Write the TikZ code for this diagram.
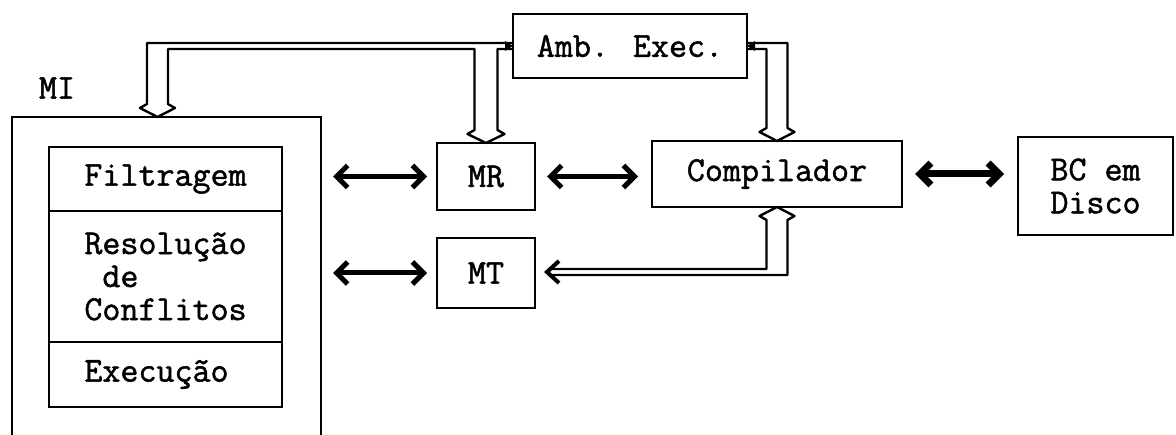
\documentclass[tikz,border=0pt]{standalone}
\usepackage{fontspec}
\newfontfamily\dotfont{Latin Modern Mono}[FakeBold=1.4]
\usetikzlibrary{calc,arrows.meta}
\begin{document}
\begin{tikzpicture}[x=1pt,y=-1pt,
  box/.style={draw,line width=2.5pt,inner sep=0pt,outer sep=0pt,align=center,font=\dotfont\fontsize{35}{33}\selectfont},
  lbl/.style={inner sep=0pt,font=\dotfont\fontsize{35}{33}\selectfont},
  pipe/.style={line width=2.4pt,line join=round},
  lr/.style={line width=5pt,{Straight Barb[length=11pt,width=22pt]}-{Straight Barb[length=11pt,width=22pt]}},
  chev/.style={line width=4pt,line join=miter}]
\useasboundingbox (0,0) rectangle (1176,435);
% nodes
\node[box,minimum width=234pt,minimum height=64pt] (amb) at (630,46) {Amb. Exec.};
\node[box,minimum width=309pt,minimum height=360pt] (mi) at (166.5,297) {};
\node[lbl] (milbl) at (57,88) {MI};
\node[box,minimum width=233pt,minimum height=64pt] (filt) at (165.5,179) {Filtragem};
\node[box,minimum width=233pt,minimum height=131pt,anchor=north,align=left] (reso) at (filt.south) {Resolução\\\ de\\Conflitos};
\node[box,minimum width=233pt,minimum height=65pt,anchor=north] (exec) at (reso.south) {Execução\hphantom{o}};
\node[box,minimum width=98pt,minimum height=67pt] (mr) at (486,176.5) {MR};
\node[box,minimum width=98pt,minimum height=70pt] (mt) at (486,273) {MT};
\node[box,minimum width=250pt,minimum height=66pt] (comp) at (777,174) {Compilador};
\node[box,minimum width=155pt,minimum height=98pt] (bc) at (1095.5,186) {BC em\\Disco};
% left-right arrows
\draw[lr,shorten <=12pt,shorten >=10pt] (mi.east |- mr.west) -- (mr.west);
\draw[lr,shorten <=12pt,shorten >=10pt] (mi.east |- mt.west) -- (mt.west);
\draw[lr,shorten <=12pt,shorten >=14pt] (mr.east) -- (comp.west |- mr.east);
\draw[lr,line width=7pt,shorten <=13pt,shorten >=14pt] (comp.east) -- (bc.west |- comp.east);
% top-left pipe (Amb -> MI, MR)
\coordinate (miT) at ($(mi.north)+(-9,0)$);
\coordinate (lu) at ($(amb.west)+(0,-3)$);
\coordinate (ll) at ($(amb.west)+(0,3)$);
\coordinate (p1) at ($(miT)+(-10.5,-13)$);
\coordinate (p2) at ($(miT)+(-17.5,-9)$);
\coordinate (p3) at ($(miT)+(17.5,-9)$);
\coordinate (p4) at ($(miT)+(10.5,-13)$);
\coordinate (q1) at ($(mr.north)+(-11.5,-13)$);
\coordinate (q2) at ($(mr.north)+(-18.5,-9)$);
\coordinate (q3) at ($(mr.north)+(18.5,-9)$);
\coordinate (q4) at ($(mr.north)+(11.5,-13)$);
\draw[pipe] (lu) -- (lu -| p1) -- (p1) -- (p2) -- (miT) -- (p3) -- (p4) -- (p4 |- ll)
  -- (q1 |- ll) -- (q1) -- (q2) -- (mr.north) -- (q3) -- (q4) -- (q4 |- ll) -- (ll);
\fill ($(amb.west)+(-8,-5)$) -- (amb.west) -- ($(amb.west)+(-8,5)$) -- cycle;
% top-right pipe (Amb -> Compilador)
\coordinate (ru) at ($(amb.east)+(0,-3)$);
\coordinate (rl) at ($(amb.east)+(0,3)$);
\coordinate (r1) at ($(comp.north)+(-10.5,-13)$);
\coordinate (r2) at ($(comp.north)+(-17.5,-9)$);
\coordinate (r3) at ($(comp.north)+(17.5,-9)$);
\coordinate (r4) at ($(comp.north)+(10.5,-13)$);
\draw[pipe] (ru) -- (ru -| r4) -- (r4) -- (r3) -- (comp.north) -- (r2) -- (r1) -- (r1 |- rl) -- (rl);
\fill ($(amb.east)+(8,-5)$) -- (amb.east) -- ($(amb.east)+(8,5)$) -- cycle;
% bottom pipe (MT <-> Compilador)
\coordinate (mtT) at ($(mt.east)+(12,-1)$);
\coordinate (bu) at ($(mtT)+(3,-3)$);
\coordinate (bl) at ($(mtT)+(3,3)$);
\coordinate (s1) at ($(comp.south)+(-10.5,13)$);
\coordinate (s2) at ($(comp.south)+(-17.5,9)$);
\coordinate (s3) at ($(comp.south)+(17.5,9)$);
\coordinate (s4) at ($(comp.south)+(10.5,13)$);
\draw[pipe] (bu) -- (bu -| s1) -- (s1) -- (s2) -- (comp.south) -- (s3) -- (s4) -- (s4 |- bl) -- (bl);
\draw[chev] ($(mtT)+(12,-11)$) -- (mtT) -- ($(mtT)+(12,11)$);
\end{tikzpicture}
\end{document}
